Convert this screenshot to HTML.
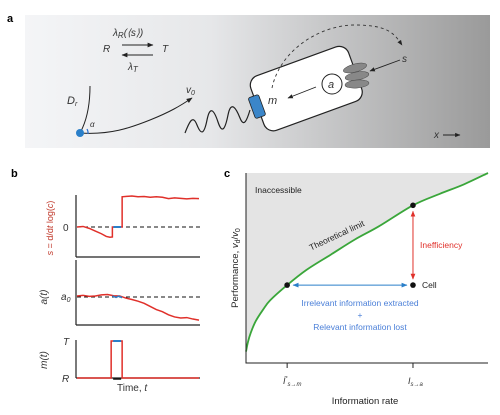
<!DOCTYPE html>
<html><head><meta charset="utf-8"><style>
html,body{margin:0;padding:0;background:#fff;}
svg{display:block;font-family:"Liberation Sans",sans-serif;}
</style></head><body>
<svg width="500" height="415" viewBox="0 0 500 415">
<defs>
<linearGradient id="bg" x1="0" x2="1" y1="0" y2="0">
<stop offset="0" stop-color="#f4f5f7"/><stop offset="0.4" stop-color="#e6e7e9"/><stop offset="1" stop-color="#9a9a9a"/>
</linearGradient>
<marker id="ah" viewBox="0 0 10 10" refX="9" refY="5" markerWidth="6" markerHeight="6" orient="auto-start-reverse"><path d="M0,1 L10,5 L0,9 z" fill="#222"/></marker>
<marker id="ahr" viewBox="0 0 10 10" refX="9" refY="5" markerWidth="6" markerHeight="6" orient="auto-start-reverse"><path d="M0,1 L10,5 L0,9 z" fill="#e0302a"/></marker>
<marker id="ahb" viewBox="0 0 10 10" refX="9" refY="5" markerWidth="6" markerHeight="6" orient="auto-start-reverse"><path d="M0,1 L10,5 L0,9 z" fill="#2a7fc9"/></marker>
</defs>

<!-- Panel a -->
<text x="7" y="22" font-weight="bold" font-size="11">a</text>
<rect x="25" y="15" width="465" height="133" fill="url(#bg)"/>
<g font-style="italic" font-size="10" fill="#333">
<text x="113" y="36">λ<tspan font-size="8" dy="2">R</tspan><tspan dy="-2">(⟨s⟩)</tspan></text>
<text x="103" y="52">R</text><text x="162" y="52">T</text>
<line x1="122" y1="45" x2="153" y2="45" stroke="#222" stroke-width="1" marker-end="url(#ah)"/>
<line x1="153" y1="55" x2="122" y2="55" stroke="#222" stroke-width="1" marker-end="url(#ah)"/>
<text x="128" y="70">λ<tspan font-size="8" dy="2">T</tspan></text>
</g>
<path d="M80,133 Q90,115 90,86" fill="none" stroke="#222" stroke-width="1"/>
<text x="67" y="104" font-style="italic" font-size="11" fill="#333">D<tspan font-size="7" dy="2">r</tspan></text>
<path d="M80,133 C110,135 130,128 150,120 S180,106 192,98" fill="none" stroke="#222" stroke-width="1" marker-end="url(#ah)"/>
<text x="186" y="93" font-style="italic" font-size="10" fill="#333">v<tspan font-size="7" dy="2">0</tspan></text>
<path d="M87,129 A8,8 0 0 1 88,134" fill="none" stroke="#2a6fd0" stroke-width="1.2"/>
<text x="90" y="127" font-style="italic" font-size="8" fill="#333">α</text>
<circle cx="80" cy="133" r="4" fill="#2a7fc9"/>
<path d="M185,133 C190,120 193,115 197,125 S204,135 207,120 S214,110 218,122 S225,130 228,115 S236,108 240,118 S247,120 250,110" fill="none" stroke="#222" stroke-width="1.2"/>
<g transform="rotate(-20 305 88)">
<rect x="254" y="60" width="104" height="58" rx="10" fill="#fff" stroke="#222" stroke-width="1.2"/>
<rect x="248" y="78" width="11" height="22" rx="2" fill="#3b86c9" stroke="#222" stroke-width="0.8"/>
</g>
<g fill="#888" stroke="#444" stroke-width="0.5">
<ellipse cx="355" cy="68" rx="12" ry="4" transform="rotate(-15 355 68)"/>
<ellipse cx="357" cy="76" rx="12" ry="4" transform="rotate(-10 357 76)"/>
<ellipse cx="357" cy="84" rx="12" ry="4" transform="rotate(-5 357 84)"/>
</g>
<circle cx="332" cy="84" r="10" fill="#fff" stroke="#222" stroke-width="1"/>
<text x="328" y="88" font-style="italic" font-size="11" fill="#333">a</text>
<line x1="316" y1="87" x2="288" y2="98" stroke="#222" stroke-width="0.9" marker-end="url(#ah)"/>
<text x="268" y="104" font-style="italic" font-size="11" fill="#333">m</text>
<path d="M272,88 C280,50 320,25 355,25 S395,35 402,45" fill="none" stroke="#333" stroke-width="0.9" stroke-dasharray="3,3" marker-end="url(#ah)"/>
<line x1="400" y1="60" x2="370" y2="71" stroke="#222" stroke-width="0.9" marker-end="url(#ah)"/>
<text x="402" y="62" font-style="italic" font-size="10" fill="#333">s</text>
<text x="434" y="138" font-style="italic" font-size="10" fill="#333">x</text>
<line x1="443" y1="135" x2="460" y2="135" stroke="#222" stroke-width="0.9" marker-end="url(#ah)"/>

<!-- Panel b -->
<text x="11" y="177" font-weight="bold" font-size="11">b</text>
<g id="pb"></g>
<g font-size="10" fill="#333">
<text transform="translate(53,228) rotate(-90)" text-anchor="middle" fill="#c0392b" font-size="9"><tspan font-style="italic">s</tspan> = <tspan>d/d</tspan><tspan font-style="italic">t</tspan> log(<tspan font-style="italic">c</tspan>)</text>
<text x="63" y="231">0</text>
<text transform="translate(47,297) rotate(-90)" text-anchor="middle" font-style="italic">a(t)</text>
<text x="61" y="300" font-style="italic">a<tspan font-size="7" dy="2">0</tspan></text>
<text transform="translate(47,360) rotate(-90)" text-anchor="middle" font-style="italic">m(t)</text>
<text x="63" y="345" font-style="italic">T</text>
<text x="62" y="382" font-style="italic">R</text>
<text x="117" y="391">Time, <tspan font-style="italic">t</tspan></text>
</g>

<!-- Panel c -->
<text x="224" y="177" font-weight="bold" font-size="11">c</text>
<g id="pc"></g>
<text x="255" y="193" font-size="8.5" fill="#222">Inaccessible</text>
<text transform="translate(338,238) rotate(-25)" text-anchor="middle" font-size="8.5" fill="#222">Theoretical limit</text>
<text x="420" y="248" font-size="8.5" fill="#e0302a">Inefficiency</text>
<text x="422" y="288" font-size="8.5" fill="#222">Cell</text>
<g font-size="8.5" fill="#4a7fd8" text-anchor="middle">
<text x="360" y="306">Irrelevant information extracted</text>
<text x="360" y="318">+</text>
<text x="360" y="330">Relevant information lost</text>
</g>
<text transform="translate(238,268) rotate(-90)" text-anchor="middle" font-size="9.5" fill="#222">Performance, <tspan font-style="italic">v</tspan><tspan font-size="7" dy="2">d</tspan><tspan dy="-2">/</tspan><tspan font-style="italic">v</tspan><tspan font-size="7" dy="2">0</tspan></text>
<text x="365" y="404" text-anchor="middle" font-size="9.5" fill="#222">Information rate</text>
<g font-style="italic" fill="#333">
<text x="283" y="384" font-size="9">İ<tspan font-size="5" dy="-4">*</tspan><tspan font-size="6" dy="6">s→m</tspan></text>
<text x="408" y="384" font-size="9">I<tspan font-size="6" dy="2">s→a</tspan></text>
</g>
</svg>
<script>
// Panel c data (normalized information rate vs performance)
const curveX=[0,0.008,0.02,0.04,0.07,0.1,0.17,0.25,0.35,0.45,0.55,0.69,0.8,0.9,1];
const curveY=[0.06,0.11,0.16,0.22,0.28,0.33,0.41,0.49,0.57,0.65,0.72,0.83,0.89,0.94,1.0];
const optX=[0.17], optY=[0.41];
const cellX=[0.69], cellY=[0.41];
const limitX=[0.69], limitY=[0.83];
// Panel b data (time 0..1)
const sTime=[0,0.05,0.1,0.15,0.2,0.24,0.27,0.29,0.29,0.37,0.37,0.45,0.5,0.55,0.6,0.65,0.7,0.75,0.8,0.85,0.9,0.95,1];
const sVal=[0,0.02,-0.05,-0.15,-0.25,-0.35,-0.38,-0.37,0,0,1.12,1.15,1.12,1.13,1.1,1.12,1.1,1.05,1.08,1.06,1.04,1.06,1.05];
const aTime=[0,0.05,0.1,0.15,0.2,0.25,0.3,0.35,0.4,0.45,0.5,0.55,0.6,0.65,0.7,0.75,0.8,0.85,0.9,0.95,1];
const aVal=[0.05,0.08,0.03,0.05,0.1,0.12,0.06,0.05,-0.05,-0.12,-0.2,-0.3,-0.45,-0.6,-0.7,-0.85,-0.95,-1.0,-0.98,-1.05,-1.1];
const mTime=[0,0.28,0.28,0.37,0.37,1];
const mVal=[0,0,1,1,0,0];
const blueStart=0.29, blueEnd=0.37;

const NS="http://www.w3.org/2000/svg";
function mk(tag,attrs,parent){const e=document.createElementNS(NS,tag);for(const k in attrs)e.setAttribute(k,attrs[k]);parent.appendChild(e);return e;}
function line(p,x1,y1,x2,y2,st,sw,da){return mk('line',{x1,y1,x2,y2,stroke:st,'stroke-width':sw,'stroke-dasharray':da||'none'},p);}
function smooth(P){let d=`M${P[0][0]},${P[0][1]}`;for(let i=0;i<P.length-1;i++){const p0=P[Math.max(0,i-1)],p1=P[i],p2=P[i+1],p3=P[Math.min(P.length-1,i+2)];
 d+=` C${p1[0]+(p2[0]-p0[0])/6},${p1[1]+(p2[1]-p0[1])/6} ${p2[0]-(p3[0]-p1[0])/6},${p2[1]-(p3[1]-p1[1])/6} ${p2[0]},${p2[1]}`;}return d;}

// Panel c
const pc=document.getElementById('pc');
const cx=v=>246+v*242, cy=v=>363-v*190;
const P=curveX.map((x,i)=>[cx(x),cy(curveY[i])]);
const cd=smooth(P);
const fill=mk('path',{d:`M${cx(0)},${cy(1)} L${P[0][0]},${P[0][1]} `+cd.slice(cd.indexOf('C'))+` L${cx(1)},${cy(1)} Z`,fill:'#e4e4e4'},pc);


const crv=mk('path',{d:cd,fill:'none',stroke:'#3aa63a','stroke-width':1.8},pc);


const ax=mk('path',{d:`M${cx(0)},${cy(1)} V${cy(0)} H${cx(1)}`,fill:'none',stroke:'#222','stroke-width':1},pc);


[optX[0],cellX[0]].forEach(x=>line(pc,cx(x),cy(0),cx(x),cy(0)+5,'#222',1));
const ba=mk('line',{x1:cx(optX[0])+6,y1:cy(optY[0]),x2:cx(cellX[0])-6,y2:cy(cellY[0]),stroke:'#2a7fc9','stroke-width':1,'marker-start':'url(#ahb)','marker-end':'url(#ahb)'},pc);


const ra=mk('line',{x1:cx(cellX[0]),y1:cy(limitY[0])+6,x2:cx(cellX[0]),y2:cy(cellY[0])-6,stroke:'#e0302a','stroke-width':1,'marker-start':'url(#ahr)','marker-end':'url(#ahr)'},pc);


[[optX[0],optY[0],'optimal-point'],[cellX[0],cellY[0],'cell-point'],[limitX[0],limitY[0],'limit-point']].forEach(d=>{
 const c=mk('circle',{cx:cx(d[0]),cy:cy(d[1]),r:2.8,fill:'#111'},pc);
 
 
});

// Panel b
const pb=document.getElementById('pb');
const bx=t=>77+t*122;
function panel(y0,ybottom,ty,tv,fy,name){
 line(pb,76,y0,76,ybottom,'#222',1.2);line(pb,76,ybottom,200,ybottom,'#222',1.2);
 const pl=mk('polyline',{points:ty.map((t,i)=>bx(t)+','+fy(tv[i])).join(' '),fill:'none',stroke:'#e0302a','stroke-width':1.5},pb);
 
 
}
const sy=v=>227-v*27;
line(pb,77,sy(0),200,sy(0),'#111',1,'4,3');
panel(195,257,sTime,sVal,sy,'s-trace');
line(pb,bx(blueStart)+1,sy(0),bx(blueEnd)-1,sy(0),'#2a7fc9',2);
const ay=v=>297-v*21;
line(pb,77,ay(0),200,ay(0),'#111',1,'4,3');
panel(260,325,aTime,aVal,ay,'a-trace');
mk('polyline',{points:`${bx(blueStart)},${ay(0.05)} ${bx(0.32)},${ay(-0.02)} ${bx(0.34)},${ay(0.04)} ${bx(blueEnd)},${ay(-0.03)}`,fill:'none',stroke:'#2a7fc9','stroke-width':1.5},pb);
const my=v=>378-v*37;
panel(340,378,mTime,mVal,my,'m-trace');
line(pb,bx(mTime[1])+2,my(1),bx(mTime[3])-1,my(1),'#2a7fc9',2);
line(pb,bx(mTime[1])+2,my(0)+1,bx(mTime[3])-1,my(0)+1,'#111',1.5);
</script>
</body></html>
